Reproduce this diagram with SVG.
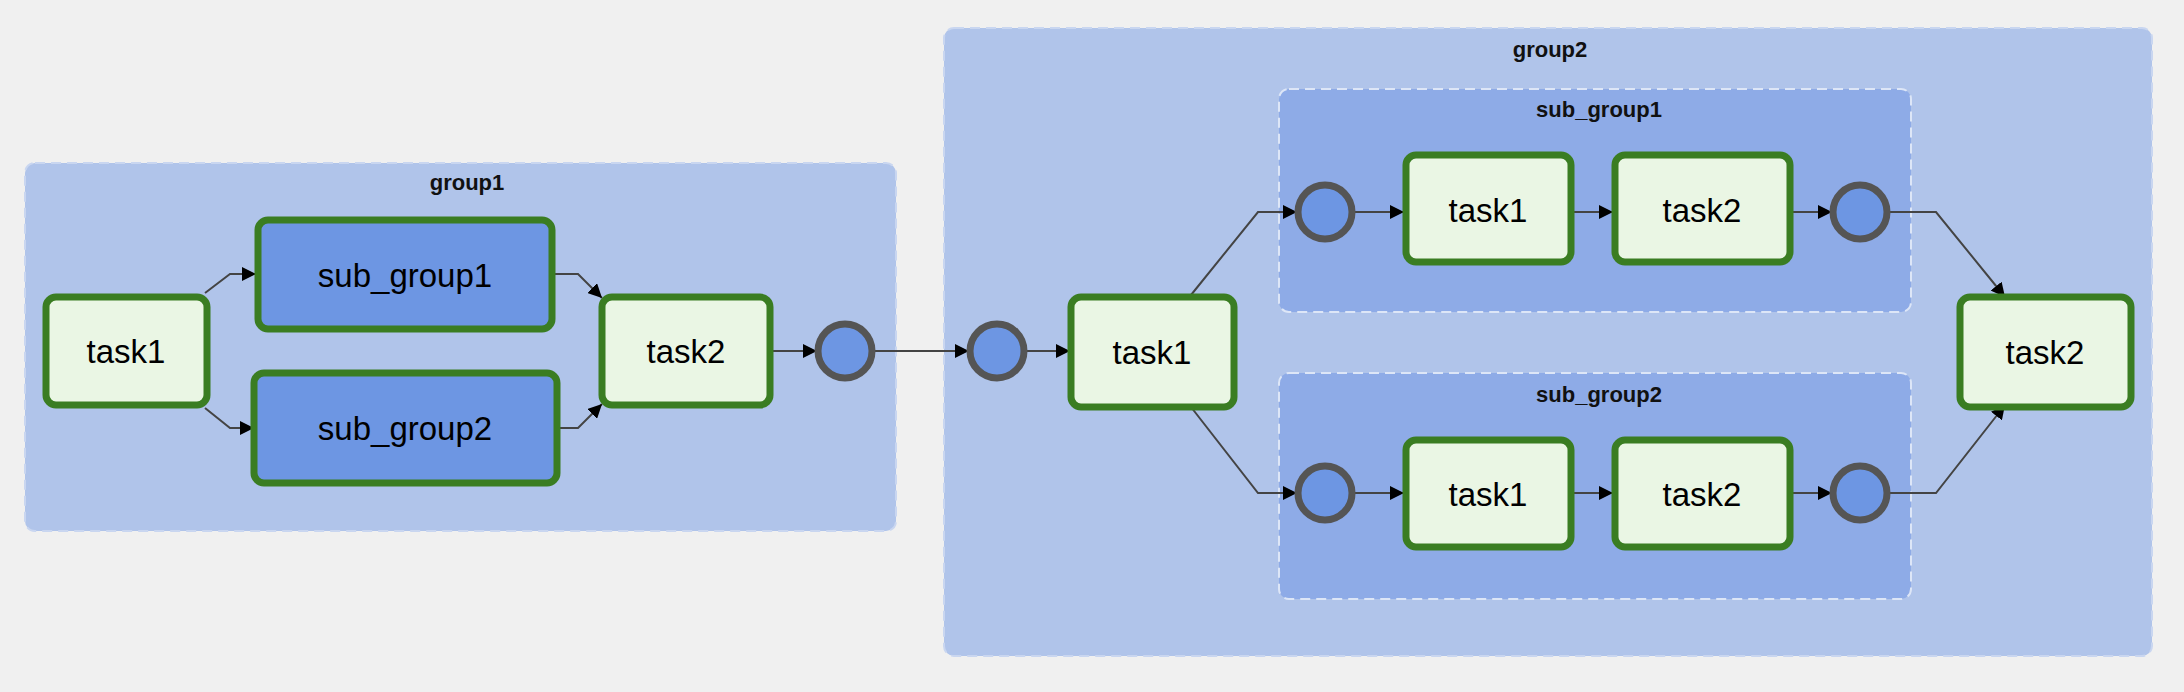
<svg xmlns="http://www.w3.org/2000/svg" width="2184" height="692" viewBox="0 0 2184 692">
<style>
.grp{fill:#b0c4ea;stroke:#c9d6f0;stroke-width:2;stroke-dasharray:10 6}
.sub{fill:#8eabe7;stroke:#dde6f7;stroke-width:2;stroke-dasharray:10 6}
.glbl{font-family:"Liberation Sans",Arial,sans-serif;font-weight:bold;font-size:22px;fill:#111;text-anchor:middle}
.task{fill:#eaf6e4;stroke:#3a7d22;stroke-width:7}
.blue{fill:#6d96e3;stroke:#3a7d22;stroke-width:7}
.circ{fill:#6d96e3;stroke:#555;stroke-width:7}
.lbl{font-family:"Liberation Sans",Arial,sans-serif;font-size:33px;fill:#000;text-anchor:middle;dominant-baseline:central}
.e{fill:none;stroke:#444;stroke-width:2}
</style>
<defs><marker id="a" viewBox="0 0 10 10" refX="10" refY="5" markerWidth="7" markerHeight="7" markerUnits="userSpaceOnUse" orient="auto"><path d="M0,0L10,5L0,10z" fill="#000"/></marker>
<marker id="ar" viewBox="0 0 10 10" refX="10" refY="5" markerWidth="14" markerHeight="14" markerUnits="userSpaceOnUse" orient="auto"><path d="M0,0L10,5L0,10z" fill="#000"/></marker></defs>
<rect width="2184" height="692" fill="#f0f0f0"/>
<g id="group1"><rect class="grp" x="25" y="163" width="871" height="368" rx="10"/><text class="glbl" x="467" y="190">group1</text></g>
<g id="group2"><rect class="grp" x="944" y="28" width="1208" height="628" rx="10"/><text class="glbl" x="1550" y="57">group2</text></g>
<g id="g2_sub_group1"><rect class="sub" x="1279" y="89" width="632" height="223" rx="10"/><text class="glbl" x="1599" y="117">sub_group1</text></g>
<g id="g2_sub_group2"><rect class="sub" x="1279" y="373" width="632" height="226" rx="10"/><text class="glbl" x="1599" y="402">sub_group2</text></g>
<g id="edges">
<path class="e" marker-end="url(#ar)" d="M205,293L230,274H256"/>
<path class="e" marker-end="url(#ar)" d="M205,408L230,428H254"/>
<path class="e" marker-end="url(#ar)" d="M552,274H578L602,298"/>
<path class="e" marker-end="url(#ar)" d="M557,428H578L602,404"/>
<path class="e" marker-end="url(#ar)" d="M770,351H817"/>
<path class="e" marker-end="url(#ar)" d="M873,351H969"/>
<path class="e" marker-end="url(#ar)" d="M1025,351H1070"/>
<path class="e" marker-end="url(#ar)" d="M1191,295L1258,212H1297"/>
<path class="e" marker-end="url(#ar)" d="M1191,407L1258,493H1297"/>
<path class="e" marker-end="url(#ar)" d="M1353,212H1404"/>
<path class="e" marker-end="url(#ar)" d="M1571,212H1613"/>
<path class="e" marker-end="url(#ar)" d="M1790,212H1832"/>
<path class="e" marker-end="url(#ar)" d="M1353,493H1404"/>
<path class="e" marker-end="url(#ar)" d="M1571,493H1613"/>
<path class="e" marker-end="url(#ar)" d="M1790,493H1832"/>
<path class="e" marker-end="url(#ar)" d="M1888,212H1936L2005,297"/>
<path class="e" marker-end="url(#ar)" d="M1888,493H1936L2005,405"/>
</g>
<g id="g1_task1"><rect class="task" x="46" y="297" width="161" height="108" rx="10"/><text class="lbl" x="126" y="351">task1</text></g>
<g id="g1_sub_group1"><rect class="blue" x="258" y="220" width="294" height="109" rx="10"/><text class="lbl" x="405" y="275">sub_group1</text></g>
<g id="g1_sub_group2"><rect class="blue" x="254" y="373" width="303" height="110" rx="10"/><text class="lbl" x="405" y="428">sub_group2</text></g>
<g id="g1_task2"><rect class="task" x="602" y="297" width="168" height="108" rx="10"/><text class="lbl" x="686" y="351">task2</text></g>
<g id="g1_end"><circle class="circ" cx="845" cy="351" r="27"/></g>
<g id="g2_start"><circle class="circ" cx="997" cy="351" r="27"/></g>
<g id="g2_task1"><rect class="task" x="1071" y="297" width="163" height="110" rx="10"/><text class="lbl" x="1152" y="352">task1</text></g>
<g id="g2_sg1_start"><circle class="circ" cx="1325" cy="212" r="27"/></g>
<g id="g2_sg1_task1"><rect class="task" x="1406" y="155" width="165" height="107" rx="10"/><text class="lbl" x="1488" y="210">task1</text></g>
<g id="g2_sg1_task2"><rect class="task" x="1615" y="155" width="175" height="107" rx="10"/><text class="lbl" x="1702" y="210">task2</text></g>
<g id="g2_sg1_end"><circle class="circ" cx="1860" cy="212" r="27"/></g>
<g id="g2_sg2_start"><circle class="circ" cx="1325" cy="493" r="27"/></g>
<g id="g2_sg2_task1"><rect class="task" x="1406" y="440" width="165" height="107" rx="10"/><text class="lbl" x="1488" y="494">task1</text></g>
<g id="g2_sg2_task2"><rect class="task" x="1615" y="440" width="175" height="107" rx="10"/><text class="lbl" x="1702" y="494">task2</text></g>
<g id="g2_sg2_end"><circle class="circ" cx="1860" cy="493" r="27"/></g>
<g id="g2_task2"><rect class="task" x="1960" y="297" width="171" height="110" rx="10"/><text class="lbl" x="2045" y="352">task2</text></g>
</svg>
